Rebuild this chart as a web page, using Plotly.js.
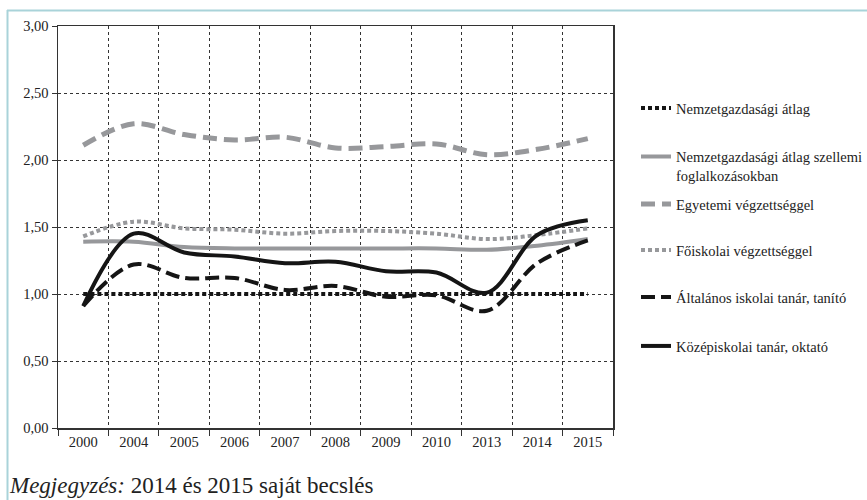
<!DOCTYPE html>
<html>
<head>
<meta charset="utf-8">
<script src="https://cdn.plot.ly/plotly-3.0.1.min.js"></script>
<style>html,body{margin:0;padding:0;background:#fff;}#chart{width:867px;height:500px;}</style>
</head>
<body>
<div id="chart"></div>
<script>
const categories = ["2000","2004","2005","2006","2007","2008","2009","2010","2013","2014","2015"];
const nemzetgazdasagi = [1.00,1.00,1.00,1.00,1.00,1.00,1.00,1.00,1.00,1.00,1.00];
const szellemi = [1.39,1.39,1.35,1.34,1.34,1.34,1.34,1.34,1.33,1.36,1.41];
const egyetemi = [2.11,2.27,2.19,2.15,2.17,2.09,2.10,2.12,2.04,2.08,2.16];
const foiskolai = [1.43,1.54,1.49,1.48,1.45,1.47,1.47,1.45,1.41,1.44,1.49];
const altalanos = [0.91,1.22,1.12,1.12,1.03,1.06,0.98,0.99,0.875,1.23,1.40];
const kozepiskolai = [0.91,1.45,1.31,1.28,1.23,1.24,1.17,1.16,1.01,1.44,1.55];
const seriesNames = [
  "Nemzetgazdasági átlag",
  "Nemzetgazdasági átlag szellemi<br>foglalkozásokban",
  "Egyetemi végzettséggel",
  "Főiskolai végzettséggel",
  "Általános iskolai tanár, tanító",
  "Középiskolai tanár, oktató"
];
const note = "<i>Megjegyzés:</i> 2014 és 2015 saját becslés";

const GRAY = "#97989b";
const BLACK = "#151515";
const FONT = "Liberation Serif, DejaVu Serif, serif";

function tr(y, name, color, width, dash, leg) {
  return {x: categories, y: y, name: name, type: "scatter", mode: "lines",
    line: {color: color, width: width, dash: dash, shape: "spline", smoothing: 1},
    legend: leg, hoverinfo: "skip"};
}
const data = [
  tr(szellemi, seriesNames[1], GRAY, 4, "solid", "legend2"),
  tr(egyetemi, seriesNames[2], GRAY, 5, "14px,7px", "legend3"),
  tr(foiskolai, seriesNames[3], GRAY, 4, "4px,3px", "legend4"),
  tr(nemzetgazdasagi, seriesNames[0], BLACK, 4, "4px,3px", "legend"),
  tr(altalanos, seriesNames[4], BLACK, 4, "14px,6px", "legend5"),
  tr(kozepiskolai, seriesNames[5], BLACK, 4, "solid", "legend6")
];

const L = 58, R = 613, T = 26, B = 428;
function py(p){ return (B - p) / (B - T); }
function px(p){ return (p - L) / (R - L); }
function leg(yc){
  return {x: px(636), xanchor: "left", y: py(yc), yanchor: "middle", valign: "top",
    bgcolor: "rgba(0,0,0,0)", font: {family: FONT, size: 14.5, color: "#222"},
    itemwidth: 30, tracegroupgap: 0};
}

const layout = {
  width: 867, height: 500,
  margin: {l: L, r: 867 - R, t: T, b: 500 - B, autoexpand: false},
  paper_bgcolor: "#fff", plot_bgcolor: "#fff",
  font: {family: FONT, size: 14, color: "#222"},
  separators: ",.",
  xaxis: {type: "category", tickson: "boundaries", ticks: "outside", ticklen: 6,
    tickcolor: "#333", showgrid: true, gridcolor: "#333", griddash: "dot", gridwidth: 1,
    showline: true, linecolor: "#333", linewidth: 1.5, mirror: true,
    tickfont: {family: FONT, size: 14.5, color: "#222"}, range: [-0.5, 10.5], fixedrange: true},
  yaxis: {range: [0, 3], dtick: 0.5, tickformat: ".2f", ticks: "outside", ticklen: 5,
    tickcolor: "#333", showgrid: true, gridcolor: "#333", griddash: "dot", gridwidth: 1,
    showline: true, linecolor: "#333", linewidth: 1.5, mirror: true, zeroline: false,
    tickfont: {family: FONT, size: 14.5, color: "#222"}, fixedrange: true},
  showlegend: true,
  legend: leg(108),
  legend2: leg(166),
  legend3: leg(204),
  legend4: leg(250),
  legend5: leg(297),
  legend6: leg(346),
  shapes: [
    {type: "line", xref: "paper", yref: "paper", x0: px(7), x1: px(867), y0: py(10.5), y1: py(10.5),
      line: {color: "#a9d3d9", width: 2}},
    {type: "line", xref: "paper", yref: "paper", x0: px(7.5), x1: px(7.5), y0: py(10), y1: py(500),
      line: {color: "#a9d3d9", width: 2}}
  ],
  annotations: [
    {text: note, xref: "paper", yref: "paper", x: px(7), y: py(485), xanchor: "left", yanchor: "middle",
      showarrow: false, font: {family: FONT, size: 23, color: "#222"}}
  ]
};

Plotly.newPlot("chart", data, layout, {displayModeBar: false, staticPlot: true});
</script>
</body>
</html>
